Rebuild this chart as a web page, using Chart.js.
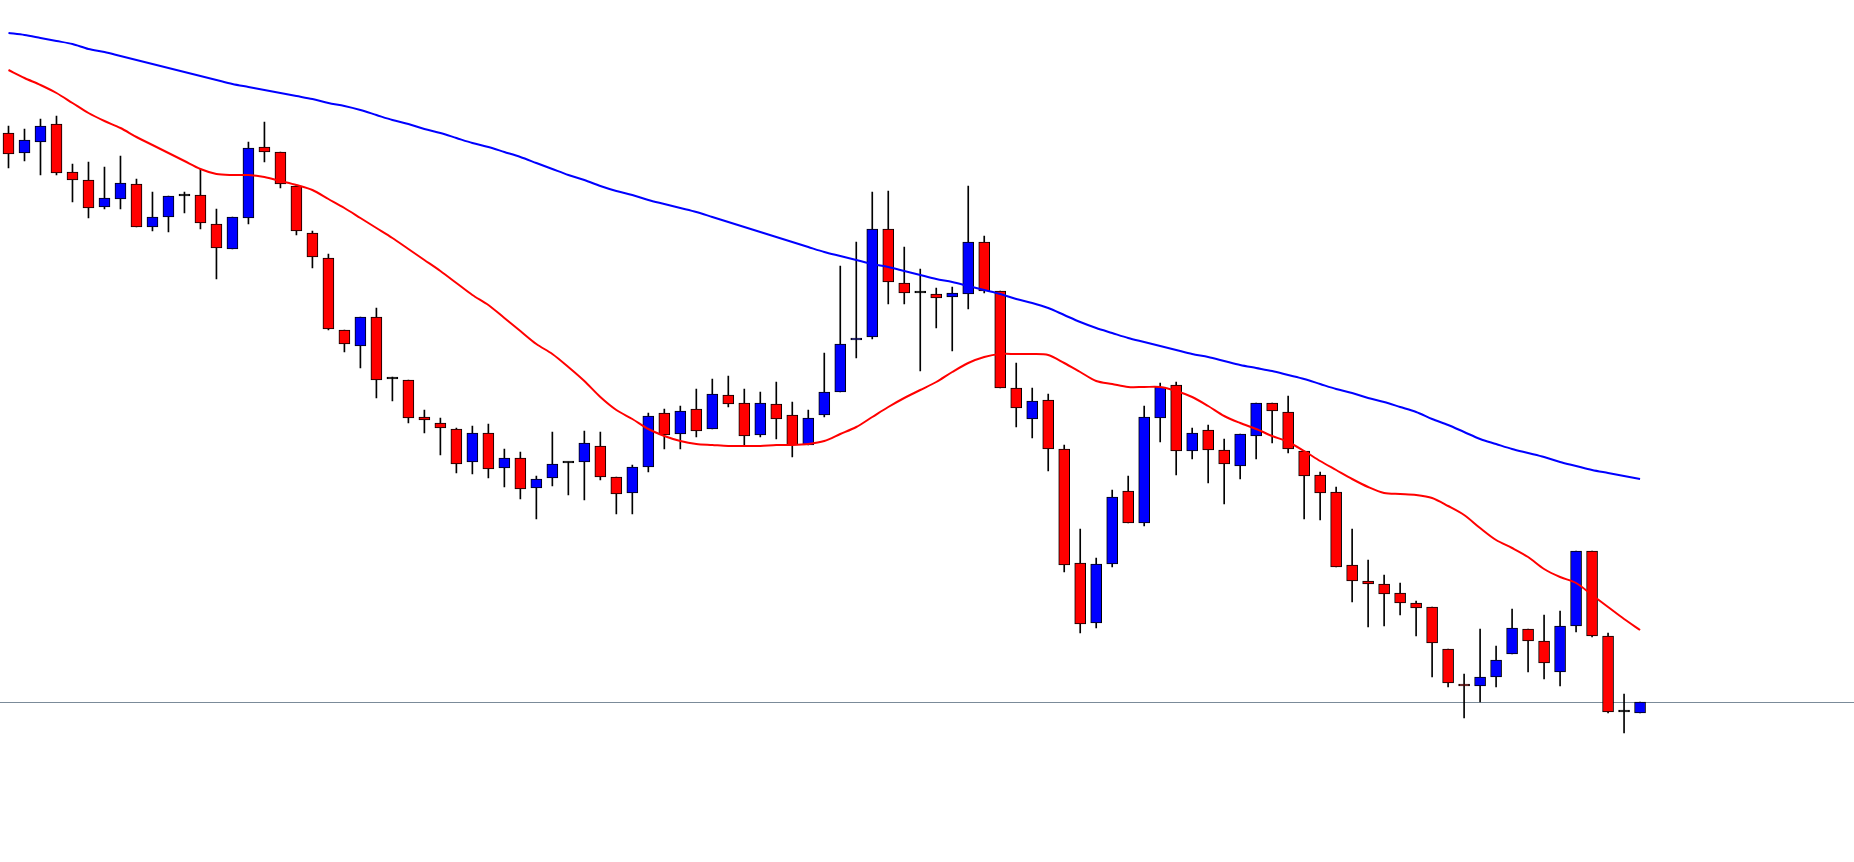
<!DOCTYPE html>
<html>
<head>
<meta charset="utf-8">
<title>Candles</title>
<script src="https://cdn.jsdelivr.net/npm/chart.js@4.4.1/dist/chart.umd.min.js"></script>
<style>
    html, body { margin: 0; padding: 0; background: #ffffff; overflow: hidden; }
    #wrap { width: 1856px; height: 862px; }
</style>
</head>
<body>
<div id="wrap"><canvas id="candles-chart"></canvas></div>
<script>
// bars shown + empty slots on the right (chart shift)
const SLOTS = 116;

const opens = [
    1.1867, 1.1847, 1.1858, 1.1876, 1.1828, 1.1820, 1.1793, 1.1801, 1.1816, 1.1773,
    1.1783, 1.1804, 1.1805, 1.1776, 1.1751, 1.1782, 1.1853, 1.1848, 1.1814, 1.1767,
    1.1742, 1.1670, 1.1654, 1.1683, 1.1621, 1.1620, 1.1583, 1.1577, 1.1571, 1.1538,
    1.1567, 1.1532, 1.1542, 1.1512, 1.1522, 1.1537, 1.1538, 1.1554, 1.1523, 1.1507,
    1.1533, 1.1587, 1.1566, 1.1591, 1.1571, 1.1605, 1.1597, 1.1565, 1.1596, 1.1585,
    1.1555, 1.1585, 1.1608, 1.1660, 1.1663, 1.1771, 1.1717, 1.1707, 1.1706, 1.1703,
    1.1706, 1.1758, 1.1709, 1.1612, 1.1581, 1.1600, 1.1551, 1.1437, 1.1377, 1.1436,
    1.1509, 1.1477, 1.1582, 1.1615, 1.1549, 1.1570, 1.1550, 1.1534, 1.1564, 1.1597,
    1.1588, 1.1549, 1.1525, 1.1508, 1.1435, 1.1419, 1.1416, 1.1407, 1.1397, 1.1393,
    1.1351, 1.1316, 1.1314, 1.1323, 1.1346, 1.1371, 1.1359, 1.1328, 1.1374, 1.1449,
    1.1364, 1.1288, 1.1287
];
const highs = [
    1.1874, 1.1871, 1.1881, 1.1884, 1.1836, 1.1838, 1.1833, 1.1844, 1.1821, 1.1808,
    1.1804, 1.1808, 1.1831, 1.1791, 1.1783, 1.1858, 1.1878, 1.1848, 1.1815, 1.1769,
    1.1746, 1.1670, 1.1683, 1.1692, 1.1623, 1.1620, 1.1590, 1.1582, 1.1572, 1.1574,
    1.1576, 1.1551, 1.1548, 1.1524, 1.1568, 1.1538, 1.1569, 1.1568, 1.1523, 1.1535,
    1.1587, 1.1591, 1.1594, 1.1611, 1.1621, 1.1624, 1.1611, 1.1608, 1.1618, 1.1598,
    1.1590, 1.1647, 1.1734, 1.1758, 1.1808, 1.1809, 1.1753, 1.1731, 1.1712, 1.1713,
    1.1814, 1.1764, 1.1709, 1.1637, 1.1612, 1.1606, 1.1555, 1.1471, 1.1442, 1.1510,
    1.1524, 1.1594, 1.1617, 1.1618, 1.1572, 1.1575, 1.1561, 1.1566, 1.1597, 1.1597,
    1.1604, 1.1549, 1.1528, 1.1513, 1.1471, 1.1440, 1.1425, 1.1417, 1.1399, 1.1393,
    1.1351, 1.1326, 1.1371, 1.1354, 1.1391, 1.1371, 1.1385, 1.1389, 1.1449, 1.1449,
    1.1367, 1.1306, 1.1298
];
const lows = [
    1.1832, 1.1839, 1.1825, 1.1825, 1.1798, 1.1782, 1.1791, 1.1791, 1.1773, 1.1769,
    1.1768, 1.1787, 1.1771, 1.1721, 1.1751, 1.1776, 1.1838, 1.1812, 1.1765, 1.1732,
    1.1670, 1.1648, 1.1632, 1.1602, 1.1599, 1.1577, 1.1567, 1.1545, 1.1527, 1.1526,
    1.1522, 1.1513, 1.1501, 1.1481, 1.1514, 1.1505, 1.1500, 1.1520, 1.1486, 1.1486,
    1.1528, 1.1551, 1.1551, 1.1563, 1.1571, 1.1593, 1.1554, 1.1563, 1.1561, 1.1543,
    1.1555, 1.1583, 1.1608, 1.1642, 1.1661, 1.1696, 1.1696, 1.1629, 1.1672, 1.1649,
    1.1691, 1.1707, 1.1612, 1.1573, 1.1562, 1.1529, 1.1428, 1.1367, 1.1372, 1.1433,
    1.1477, 1.1474, 1.1558, 1.1525, 1.1541, 1.1517, 1.1496, 1.1521, 1.1541, 1.1557,
    1.1547, 1.1481, 1.1480, 1.1433, 1.1398, 1.1373, 1.1374, 1.1385, 1.1364, 1.1323,
    1.1313, 1.1282, 1.1298, 1.1313, 1.1346, 1.1328, 1.1321, 1.1314, 1.1368, 1.1363,
    1.1287, 1.1267, 1.1287
];
const closes = [
    1.1846, 1.1860, 1.1874, 1.1827, 1.1820, 1.1792, 1.1802, 1.1817, 1.1773, 1.1783,
    1.1804, 1.1804, 1.1777, 1.1752, 1.1783, 1.1852, 1.1848, 1.1816, 1.1769, 1.1743,
    1.1671, 1.1656, 1.1683, 1.1620, 1.1621, 1.1582, 1.1580, 1.1572, 1.1536, 1.1567,
    1.1531, 1.1542, 1.1511, 1.1521, 1.1536, 1.1537, 1.1557, 1.1523, 1.1506, 1.1533,
    1.1584, 1.1565, 1.1589, 1.1569, 1.1606, 1.1596, 1.1564, 1.1597, 1.1581, 1.1555,
    1.1582, 1.1608, 1.1656, 1.1662, 1.1771, 1.1718, 1.1707, 1.1707, 1.1702, 1.1707,
    1.1758, 1.1709, 1.1612, 1.1592, 1.1599, 1.1551, 1.1435, 1.1376, 1.1436, 1.1503,
    1.1477, 1.1583, 1.1613, 1.1549, 1.1567, 1.1550, 1.1536, 1.1566, 1.1597, 1.1589,
    1.1551, 1.1524, 1.1507, 1.1433, 1.1419, 1.1416, 1.1406, 1.1397, 1.1392, 1.1357,
    1.1317, 1.1314, 1.1323, 1.1340, 1.1372, 1.1359, 1.1337, 1.1374, 1.1449, 1.1364,
    1.1288, 1.1288, 1.1298
];

// slow moving average (blue)
const maSlow = [
    1.1967, 1.1965, 1.1962, 1.1959, 1.1956, 1.1951, 1.1948, 1.1944, 1.1940, 1.1936,
    1.1932, 1.1928, 1.1924, 1.1920, 1.1916, 1.1913, 1.1910, 1.1907, 1.1904, 1.1901,
    1.1897, 1.1894, 1.1890, 1.1885, 1.1880, 1.1876, 1.1871, 1.1867, 1.1862, 1.1857,
    1.1853, 1.1848, 1.1843, 1.1837, 1.1831, 1.1825, 1.1820, 1.1814, 1.1809, 1.1805,
    1.1800, 1.1796, 1.1792, 1.1788, 1.1783, 1.1778, 1.1773, 1.1768, 1.1763, 1.1758,
    1.1753, 1.1748, 1.1744, 1.1740, 1.1736, 1.1733, 1.1729, 1.1725, 1.1721, 1.1718,
    1.1714, 1.1710, 1.1706, 1.1701, 1.1697, 1.1692, 1.1685, 1.1678, 1.1672, 1.1667,
    1.1662, 1.1658, 1.1654, 1.1650, 1.1646, 1.1643, 1.1639, 1.1635, 1.1632, 1.1629,
    1.1625, 1.1621, 1.1616, 1.1611, 1.1607, 1.1602, 1.1598, 1.1593, 1.1588, 1.1581,
    1.1575, 1.1568, 1.1561, 1.1556, 1.1551, 1.1547, 1.1543, 1.1538, 1.1534, 1.1530,
    1.1527, 1.1524, 1.1521
];
// fast moving average (red)
const maFast = [
    1.1930, 1.1922, 1.1915, 1.1907, 1.1897, 1.1887, 1.1879, 1.1872, 1.1863, 1.1855,
    1.1847, 1.1839, 1.1831, 1.1826, 1.1825, 1.1825, 1.1823, 1.1819, 1.1815, 1.1810,
    1.1801, 1.1792, 1.1782, 1.1772, 1.1762, 1.1751, 1.1740, 1.1729, 1.1717, 1.1705,
    1.1695, 1.1682, 1.1669, 1.1656, 1.1646, 1.1633, 1.1619, 1.1603, 1.1590, 1.1581,
    1.1571, 1.1564, 1.1559, 1.1556, 1.1555, 1.1554, 1.1554, 1.1554, 1.1555, 1.1555,
    1.1556, 1.1559, 1.1566, 1.1573, 1.1583, 1.1593, 1.1602, 1.1610, 1.1618, 1.1628,
    1.1637, 1.1643, 1.1646, 1.1646, 1.1646, 1.1645, 1.1637, 1.1628, 1.1619, 1.1616,
    1.1613, 1.1613, 1.1613, 1.1609, 1.1603, 1.1594, 1.1584, 1.1577, 1.1571, 1.1564,
    1.1558, 1.1549, 1.1539, 1.1530, 1.1521, 1.1513, 1.1507, 1.1506, 1.1505, 1.1502,
    1.1494, 1.1485, 1.1472, 1.1460, 1.1452, 1.1443, 1.1431, 1.1423, 1.1417, 1.1405,
    1.1393, 1.1381, 1.1370
];

// horizontal level and visible price range
const level = 1.1298;
const priceMin = 1.1138;
const priceMax = 1.2000;

const labels = Array.from({length: SLOTS}, (_, i) => String(i + 1));

const bodies = opens.map((o, i) => [o, closes[i]]);
const wicks = lows.map((l, i) => [l, highs[i]]);
const bodyColors = opens.map((o, i) => {
    if (closes[i] > o) return '#0000ff';
    if (closes[i] < o) return '#ff0000';
    return '#000000';
});

// level line drawn under the candles
const levelLine = {
    id: 'levelLine',
    beforeDatasetsDraw(chart) {
        const {ctx, scales} = chart;
        const y = Math.round(scales.y.getPixelForValue(level)) + 0.5;
        ctx.save();
        ctx.strokeStyle = '#7b8b99';
        ctx.lineWidth = 1;
        ctx.beginPath();
        ctx.moveTo(0, y);
        ctx.lineTo(chart.width, y);
        ctx.stroke();
        ctx.restore();
    }
};

const data = {
    labels: labels,
    datasets: [
        {
            type: 'line',
            label: 'MA fast',
            data: maFast,
            borderColor: '#ff0000',
            borderWidth: 2,
            pointRadius: 0,
            tension: 0.3,
            order: 0
        },
        {
            type: 'line',
            label: 'MA slow',
            data: maSlow,
            borderColor: '#0000ff',
            borderWidth: 2,
            pointRadius: 0,
            tension: 0.3,
            order: 0
        },
        {
            type: 'bar',
            label: 'Body',
            data: bodies,
            backgroundColor: bodyColors,
            borderColor: '#000000',
            borderWidth: 1,
            borderSkipped: false,
            barThickness: 11,
            minBarLength: 2,
            grouped: false,
            order: 1
        },
        {
            type: 'bar',
            label: 'Wick',
            data: wicks,
            backgroundColor: '#000000',
            borderWidth: 0,
            barThickness: 1,
            grouped: false,
            order: 2
        }
    ]
};

const config = {
    type: 'bar',
    data: data,
    options: {
        responsive: true,
        maintainAspectRatio: false,
        animation: false,
        // half-pixel shift so 1px wicks land on whole pixels
        layout: { padding: { left: 0.5, right: -0.5, top: 0, bottom: 0 } },
        plugins: {
            legend: { display: false },
            tooltip: { enabled: false }
        },
        scales: {
            x: { display: false, offset: true },
            y: { display: false, min: priceMin, max: priceMax }
        }
    },
    plugins: [levelLine]
};

const myChart = new Chart(
    document.getElementById('candles-chart'),
    config
);
</script>
</body>
</html>
